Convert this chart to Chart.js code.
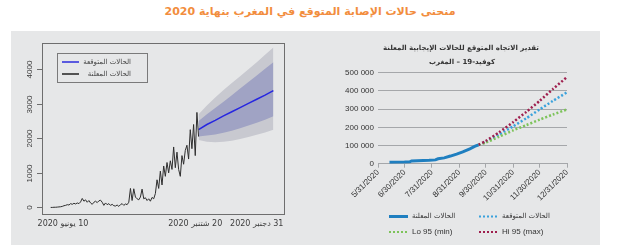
<!DOCTYPE html>
<html>
<head>
<meta charset="utf-8">
<script src="https://cdn.jsdelivr.net/npm/chart.js"></script>
<style>
  body { margin: 0; width: 620px; height: 250px; background: #fff; position: relative; overflow: hidden; font-family: "DejaVu Sans", sans-serif; }
  #titre { position: absolute; left: 0; top: 5px; width: 620px; text-align: center; color: #f28d3d; font-weight: bold; font-size: 11px; direction: rtl; }
  #panel { position: absolute; left: 11px; top: 31px; width: 589px; height: 214px; background: #e6e7e8; direction: ltr; }
  #boxG { position: absolute; left: 0; top: 0; width: 309px; height: 214px; }
  #boxD { position: absolute; left: 309px; top: 0; width: 280px; height: 214px; }
</style>
</head>
<body>
<div id="titre">منحنى حالات الإصابة المتوقع في المغرب بنهاية 2020</div>
<div id="panel">
  <div id="boxG"><canvas id="grafGauche" dir="ltr"></canvas></div>
  <div id="boxD"><canvas id="grafDroite" dir="ltr"></canvas></div>
</div>
<script>
// ---- left chart : daily cases (observed + forecast band) ----
const casJour = [
  0, 0, 5, 5, 10, 15, 20, 30, 50, 60,
  80, 70, 110, 90, 120, 100, 130, 110, 160, 260,
  180, 220, 150, 200, 130, 90, 150, 180, 140, 190,
  210, 150, 60, 130, 80, 110, 60, 90, 50, 40,
  70, 30, 80, 110, 60, 100, 80, 150, 550, 200,
  540, 300, 250, 220, 300, 530, 250, 280, 200, 250,
  180, 290, 250, 400, 800, 550, 1050, 650, 1200, 900,
  1300, 1000, 1350, 1100, 1750, 1150, 1600, 1100, 900, 1500,
  1250, 1650, 1800, 1400, 2250, 1700, 2400, 1500, 2750, 2050
];
const prevIndex = [89, 94, 99, 104, 109, 114, 119, 124, 129, 134];
const prevMoy  = [2250, 2400, 2520, 2650, 2770, 2890, 3010, 3130, 3250, 3380];
const prevHi95 = [2700, 2950, 3180, 3400, 3600, 3800, 4000, 4200, 4420, 4630];
const prevLo95 = [1950, 1900, 1890, 1900, 1930, 1980, 2040, 2100, 2170, 2250];
const prevHi80 = [2500, 2700, 2880, 3060, 3250, 3440, 3630, 3820, 4010, 4200];
const prevLo80 = [2050, 2080, 2110, 2160, 2220, 2290, 2370, 2450, 2540, 2640];
const gaucheTicksY = [0, 1000, 2000, 3000, 4000];
const gaucheTicksX = [7.4, 87, 124];
const gaucheLabelsX = ["10 يونيو 2020", "20 شتنبر 2020", "31 دجنبر 2020"];

// ---- right chart : cumulative cases ----
const joursObs = [13, 30, 36, 38, 58, 65, 68, 75, 82, 89, 96, 104, 110, 114];
const cumulObs = [8500, 9500, 10500, 15500, 18500, 21000, 27000, 32000, 42000, 53000, 65000, 82000, 96000, 104000];
const joursPrev = [114, 122, 137, 153, 168, 183, 198, 214];
const cumulPrev = [104000, 120000, 160000, 205000, 250000, 298000, 345000, 392000];
const cumulHi95 = [104000, 125000, 172000, 228000, 285000, 345000, 410000, 476000];
const cumulLo95 = [104000, 116000, 148000, 183000, 212000, 242000, 270000, 298000];
const joursMois = [0, 30, 61, 92, 122, 153, 183, 214];
const labelsMois = ["5/31/2020", "6/30/2020", "7/31/2020", "8/31/2020", "9/30/2020", "10/31/2020", "11/30/2020", "12/31/2020"];

const ARABE = '"DejaVu Sans", sans-serif';
const LATIN = '"Liberation Sans", Arial, sans-serif';

const pts = (xs, ys) => ys.map((v, i) => ({ x: xs[i], y: v }));

// decor of the left chart: box, y ticks, x labels, legend
const decorGauche = {
  id: "decorGauche",
  afterDraw(chart) {
    const { ctx, chartArea: a, scales: { x, y } } = chart;
    ctx.save();
    ctx.strokeStyle = "#6e6e6e";
    ctx.lineWidth = 1;
    ctx.strokeRect(Math.round(a.left) + 0.5, Math.round(a.top) + 0.5, Math.round(a.right - a.left), Math.round(a.bottom - a.top));

    ctx.fillStyle = "#3c3c3c";
    ctx.font = "8px " + LATIN;
    gaucheTicksY.forEach(v => {
      const py = Math.round(y.getPixelForValue(v)) + 0.5;
      ctx.beginPath();
      ctx.moveTo(Math.round(a.left) - 5, py);
      ctx.lineTo(Math.round(a.left), py);
      ctx.stroke();
      ctx.save();
      ctx.translate(a.left - 11.5, py);
      ctx.rotate(-Math.PI / 2);
      ctx.textAlign = "center";
      ctx.textBaseline = "middle";
      ctx.direction = "ltr";
      ctx.fillText(String(v), 0, 0);
      ctx.restore();
    });

    ctx.font = "8px " + ARABE;
    ctx.direction = "rtl";
    ctx.textAlign = "center";
    ctx.textBaseline = "middle";
    gaucheTicksX.forEach((v, i) => ctx.fillText(gaucheLabelsX[i], x.getPixelForValue(v), a.bottom + 10));

    // legend
    const lx = Math.round(a.left) + 15, ly = Math.round(a.top) + 10;
    ctx.fillStyle = "#e6e7e8";
    ctx.fillRect(lx, ly, 90, 29);
    ctx.strokeStyle = "#7a7a7a";
    ctx.lineWidth = 1;
    ctx.strokeRect(lx + 0.5, ly + 0.5, 90, 29);
    const items = [["الحالات المتوقعة", "#2b2bdc"], ["الحالات المعلنة", "#222"]];
    items.forEach(([txt, col], i) => {
      const yy = ly + 9 + i * 12;
      ctx.strokeStyle = col;
      ctx.lineWidth = 1.5;
      ctx.beginPath();
      ctx.moveTo(lx + 5, yy);
      ctx.lineTo(lx + 22, yy);
      ctx.stroke();
      ctx.fillStyle = "#444";
      ctx.font = "7px " + ARABE;
      ctx.direction = "rtl";
      ctx.textAlign = "right";
      ctx.fillText(txt, lx + 74, yy);
    });
    ctx.restore();
  }
};

// datasets are drawn last-to-first, so the bands go at the end of the list
new Chart(document.getElementById("grafGauche"), {
  type: "line",
  data: {
    datasets: [
      { data: casJour.map((v, i) => ({ x: i, y: v })), borderColor: "#2e2e2e", borderWidth: 1, pointRadius: 0, fill: false },
      { data: pts(prevIndex, prevMoy), borderColor: "#2626e0", borderWidth: 1.5, pointRadius: 0, fill: false },
      { data: pts(prevIndex, prevHi80), fill: "+1", backgroundColor: "#a0a3c4", borderWidth: 0, pointRadius: 0 },
      { data: pts(prevIndex, prevLo80), fill: false, borderWidth: 0, pointRadius: 0 },
      { data: pts(prevIndex, prevHi95), fill: "+1", backgroundColor: "#c8c9d0", borderWidth: 0, pointRadius: 0 },
      { data: pts(prevIndex, prevLo95), fill: false, borderWidth: 0, pointRadius: 0 }
    ]
  },
  options: {
    responsive: true,
    maintainAspectRatio: false,
    animation: false,
    events: [],
    layout: { padding: { left: 30.7, right: 36, top: 12.3, bottom: 31 } },
    plugins: { legend: { display: false }, tooltip: { enabled: false } },
    scales: {
      x: { type: "linear", display: false, min: -5.4, max: 140.4 },
      y: { display: false, min: -190, max: 4750 }
    }
  },
  plugins: [decorGauche]
});

// decor of the right chart: title and legend
const decorDroite = {
  id: "decorDroite",
  afterDraw(chart) {
    const { ctx } = chart;
    ctx.save();
    ctx.fillStyle = "#333";
    ctx.font = "bold 7px " + ARABE;
    ctx.direction = "rtl";
    ctx.textAlign = "center";
    ctx.textBaseline = "middle";
    ctx.fillText("تقدير الاتجاه المتوقع للحالات الإيجابية المعلنة", 141, 17.5);
    ctx.fillText("كوفيد-19 – المغرب", 142, 31);

    const leg = [
      ["الحالات المعلنة", "#1f7fc0", false, 69, 185.5, ARABE],
      ["الحالات المتوقعة", "#3aa2dc", true, 159, 185.5, ARABE],
      ["Lo 95 (min)", "#7dc35a", true, 69, 201, LATIN],
      ["Hi 95 (max)", "#9e1f4e", true, 159, 201, LATIN]
    ];
    leg.forEach(([txt, col, pointille, x0, y0, fnt]) => {
      ctx.fillStyle = col;
      if (pointille) {
        for (let k = 0; k < 5; k++) ctx.fillRect(x0 + k * 4, y0 - 1, 2, 2);
      } else {
        ctx.fillRect(x0, y0 - 1.5, 19, 3);
      }
      ctx.fillStyle = "#333";
      ctx.font = (fnt === ARABE ? "7px " : "8px ") + fnt;
      ctx.direction = fnt === ARABE ? "rtl" : "ltr";
      ctx.textAlign = "left";
      ctx.fillText(txt, x0 + 23, y0);
    });
    ctx.restore();
  }
};

const formatMilliers = v => String(v).replace(/\B(?=(\d{3})+(?!\d))/g, " ");

new Chart(document.getElementById("grafDroite"), {
  type: "line",
  data: {
    datasets: [
      { data: pts(joursPrev, cumulHi95), borderColor: "#9e1f4e", borderWidth: 2.5, borderDash: [2, 2], pointRadius: 0, fill: false, tension: 0.2 },
      { data: pts(joursPrev, cumulLo95), borderColor: "#7dc35a", borderWidth: 2.5, borderDash: [2, 2], pointRadius: 0, fill: false, tension: 0.2 },
      { data: pts(joursPrev, cumulPrev), borderColor: "#3aa2dc", borderWidth: 2.5, borderDash: [2, 2], pointRadius: 0, fill: false, tension: 0.2 },
      { data: pts(joursObs, cumulObs), borderColor: "#1f7fc0", borderWidth: 3, pointRadius: 0, fill: false }
    ]
  },
  options: {
    responsive: true,
    maintainAspectRatio: false,
    animation: false,
    events: [],
    layout: { padding: { left: 0, right: 33, top: 41.7, bottom: 0 } },
    plugins: { legend: { display: false }, tooltip: { enabled: false } },
    scales: {
      x: {
        type: "linear",
        min: 0,
        max: 214,
        afterBuildTicks: axis => { axis.ticks = joursMois.map(v => ({ value: v })); },
        afterFit: axis => { axis.height = 81.3; },
        ticks: {
          autoSkip: false,
          minRotation: 45,
          maxRotation: 45,
          padding: 0,
          color: "#333",
          font: { family: LATIN, size: 8 },
          callback: (v, i) => labelsMois[i]
        },
        grid: { drawOnChartArea: false, drawTicks: true, tickLength: 4, color: "#a5a7aa" },
        border: { display: true, color: "#a5a7aa" }
      },
      y: {
        min: 0,
        max: 500000,
        afterFit: axis => { axis.width = 58; },
        ticks: {
          stepSize: 100000,
          padding: 4,
          color: "#333",
          font: { family: LATIN, size: 8 },
          callback: v => formatMilliers(v)
        },
        grid: { color: "#a5a7aa", drawTicks: false },
        border: { display: false }
      }
    }
  },
  plugins: [decorDroite]
});
</script>
</body>
</html>
